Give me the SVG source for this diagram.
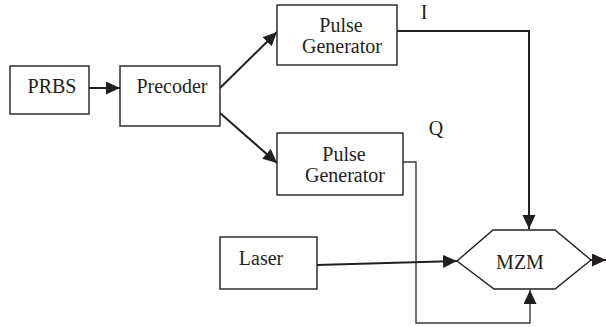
<svg xmlns="http://www.w3.org/2000/svg" width="606" height="327" viewBox="0 0 606 327">
<defs>
<style>
.box{fill:#fff;stroke:#231f20;stroke-width:1.4}
.t{font-family:"Liberation Serif","Times New Roman",serif;font-size:20px;fill:#231f20;text-anchor:middle}
.c{fill:none;stroke:#231f20;stroke-width:2}
.thin{fill:none;stroke:#3a3a3a;stroke-width:1.4}
</style>
<marker id="ah" markerUnits="userSpaceOnUse" markerWidth="15" markerHeight="14" refX="14" refY="6.5" orient="auto">
<path d="M0,0 L14,6.5 L0,13 z" fill="#231f20"/>
</marker>
</defs>
<rect width="606" height="327" fill="#fff"/>
<g id="connectors">
<line class="c" x1="89" y1="88" x2="120" y2="88" marker-end="url(#ah)"/>
<line class="c" x1="220" y1="88" x2="277" y2="32" marker-end="url(#ah)"/>
<line class="c" x1="220" y1="113" x2="277" y2="163" marker-end="url(#ah)"/>
<polyline class="c" points="397,31 529,31 529,229" marker-end="url(#ah)"/>
<polyline class="thin" points="403,162 416,162 416,323 530,323 530,290" marker-end="url(#ah)"/>
<line class="c" x1="317" y1="265" x2="457" y2="261" stroke-width="2.4" marker-end="url(#ah)"/>
<line class="c" x1="591" y1="260" x2="606" y2="260" marker-end="url(#ah)"/>
</g>
<g id="prbs"><rect class="box" x="10" y="66" width="79" height="48"/><text class="t" x="52" y="93">PRBS</text></g>
<g id="precoder"><rect class="box" x="120" y="66" width="100" height="60"/><text class="t" x="172" y="93">Precoder</text></g>
<g id="pulse-i"><rect class="box" x="277" y="5" width="120" height="60"/><text class="t" x="341" y="32">Pulse</text><text class="t" x="342" y="53">Generator</text></g>
<g id="pulse-q"><rect class="box" x="277" y="133" width="126" height="62"/><text class="t" x="344" y="161">Pulse</text><text class="t" x="345" y="182">Generator</text></g>
<g id="laser"><rect class="box" x="220" y="237" width="97" height="52"/><text class="t" x="261" y="265">Laser</text></g>
<g id="mzm"><polygon class="box" points="457,261 493,230 555,230 591,260 555,289 494,289"/><text class="t" x="520" y="269">MZM</text></g>
<g id="labels"><text class="t" x="424" y="19">I</text><text class="t" x="436" y="135">Q</text></g>
</svg>
